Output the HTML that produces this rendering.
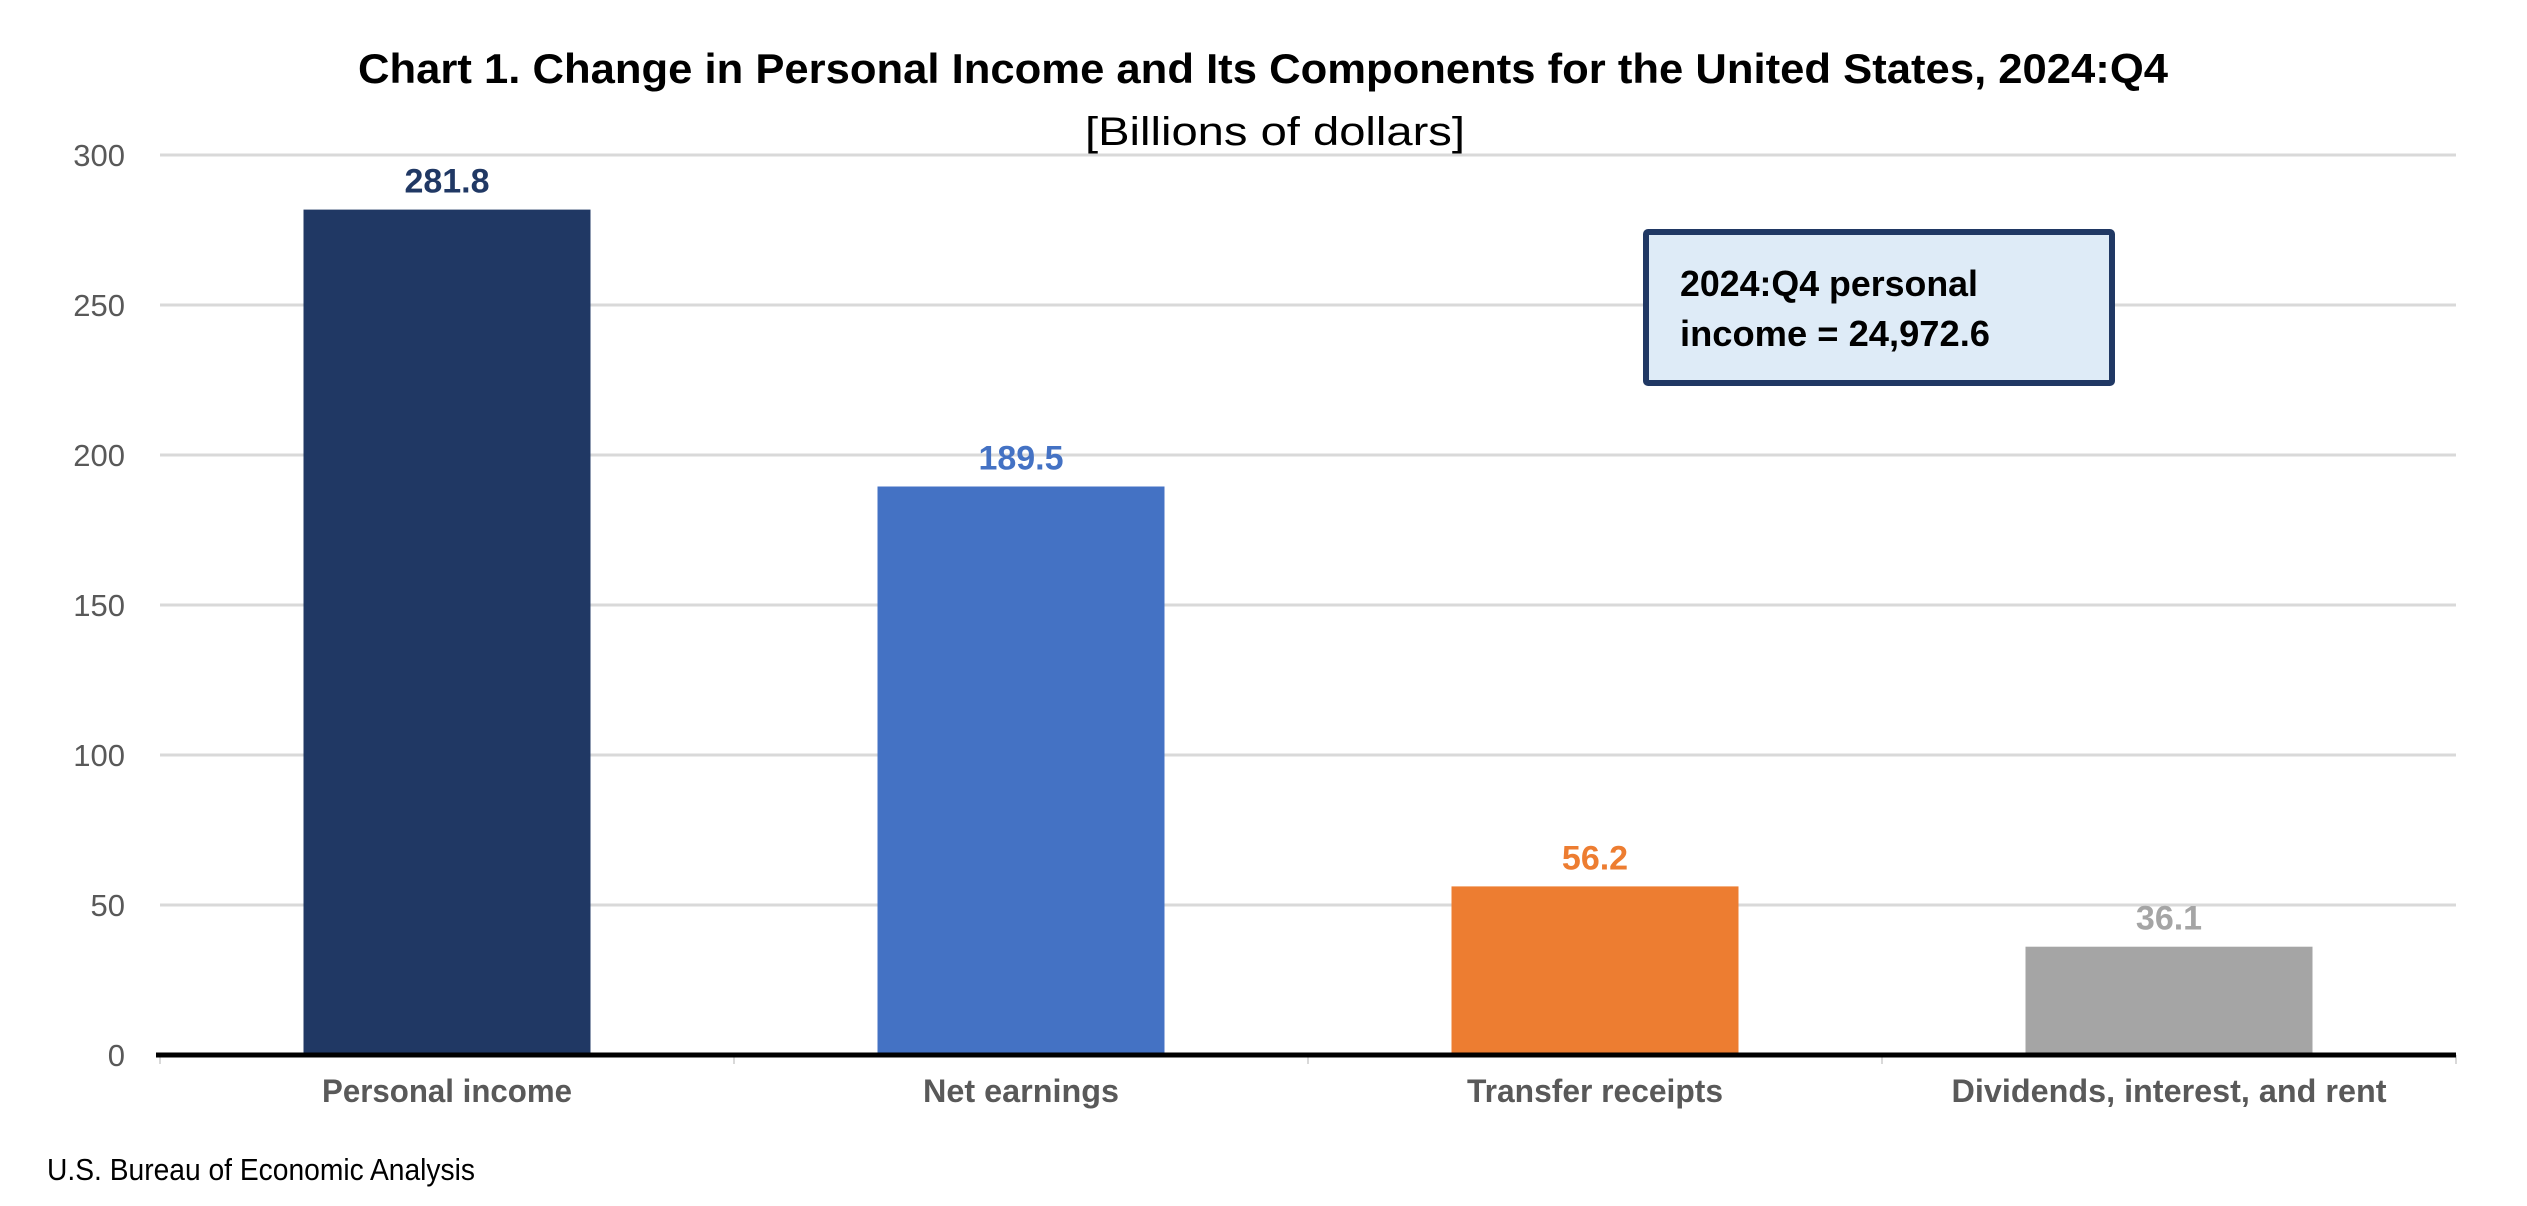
<!DOCTYPE html>
<html><head><meta charset="utf-8"><style>
html,body{margin:0;padding:0;background:#fff;}
svg{display:block;font-family:"Liberation Sans",sans-serif;}
</style></head><body>
<svg id="chart" width="2527" height="1206" viewBox="0 0 2527 1206" xmlns="http://www.w3.org/2000/svg">
<text x="1263" y="83" text-anchor="middle" font-weight="bold" font-size="42" fill="#000" textLength="1810" lengthAdjust="spacingAndGlyphs">Chart 1. Change in Personal Income and Its Components for the United States, 2024:Q4</text>
<text x="1275" y="145" text-anchor="middle" font-size="40" fill="#000" textLength="380" lengthAdjust="spacingAndGlyphs">[Billions of dollars]</text>
<g id="grid"></g>
<g id="bars"></g>
<rect x="1646" y="232" width="466" height="151" fill="#DEEBF7" stroke="#203864" stroke-width="6" rx="2"/>
<text font-weight="bold" font-size="36" fill="#000"><tspan x="1680" y="296" textLength="298" lengthAdjust="spacingAndGlyphs">2024:Q4 personal</tspan><tspan x="1680" y="346" textLength="310" lengthAdjust="spacingAndGlyphs">income = 24,972.6</tspan></text>
<text x="47" y="1180" font-size="31" fill="#000" textLength="428" lengthAdjust="spacingAndGlyphs">U.S. Bureau of Economic Analysis</text>
</svg>
<script>
const categories = ["Personal income","Net earnings","Transfer receipts","Dividends, interest, and rent"];
const values = [281.8, 189.5, 56.2, 36.1];
const valueLabels = ["281.8","189.5","56.2","36.1"];
const tickValues = [0,50,100,150,200,250,300];
const colors = ["#203864","#4472C4","#ED7D31","#A5A5A5"];
const labelColors = ["#203864","#4472C4","#ED7D31","#A5A5A5"];
const catWidths = [250,196,256,435];

const NS="http://www.w3.org/2000/svg";
const left=160,right=2456,y0=1055,y300=155;
const yScale=v=>y0-(v/300)*(y0-y300);
const band=(right-left)/categories.length;
const xCenter=i=>left+band*(i+0.5);
const barW=band*0.5;
function mk(tag,attrs,parent,text){const e=document.createElementNS(NS,tag);for(const k in attrs)e.setAttribute(k,attrs[k]);if(text!==undefined)e.textContent=text;parent.appendChild(e);return e;}
const grid=document.getElementById('grid');
const bars=document.getElementById('bars');
tickValues.forEach(t=>{
  const y=yScale(t);
  if(t>0){const l=mk('line',{x1:left,x2:right,y1:y,y2:y,stroke:'#D9D9D9','stroke-width':3},grid);
  
  }
  const tx=mk('text',{x:125,y:y+11,'text-anchor':'end','font-size':31,fill:'#595959'},grid,String(t));
  
  
});
for(let i=0;i<=categories.length;i++){
  const x=left+band*i;
  const tk=mk('line',{x1:x,x2:x,y1:y0,y2:y0+9,stroke:'#D9D9D9','stroke-width':2},grid);
  
  
}
categories.forEach((c,i)=>{
  const cx=xCenter(i),top=yScale(values[i]);
  const r=mk('rect',{x:cx-barW/2,y:top,width:barW,height:y0-top,fill:colors[i]},bars);
  
  
  const v=mk('text',{x:cx,y:top-17,'text-anchor':'middle','font-size':34,'font-weight':'bold',fill:labelColors[i]},bars,valueLabels[i]);
  
  
  const cl=mk('text',{x:cx,y:1102,'text-anchor':'middle','font-size':32,'font-weight':'bold',fill:'#595959',textLength:catWidths[i],lengthAdjust:'spacingAndGlyphs'},bars,c);
  
  
});
const ax=mk('line',{x1:156,x2:right,y1:y0,y2:y0,stroke:'#000','stroke-width':5},bars);


</script>
</body></html>
